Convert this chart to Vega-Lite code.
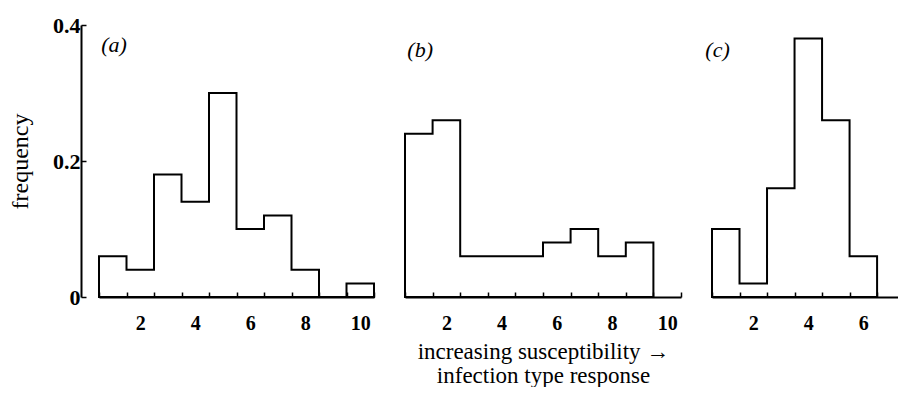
{
  "$schema": "https://vega.github.io/schema/vega-lite/v6.json",
  "background": "white",
  "padding": {"left": 8, "top": 14, "right": 0, "bottom": 0},
  "datasets": {
    "a": [
      {"score": 1, "freq": 0.06}, {"score": 2, "freq": 0.04}, {"score": 3, "freq": 0.18},
      {"score": 4, "freq": 0.14}, {"score": 5, "freq": 0.30}, {"score": 6, "freq": 0.10},
      {"score": 7, "freq": 0.12}, {"score": 8, "freq": 0.04}, {"score": 9, "freq": 0.0},
      {"score": 10, "freq": 0.02}, {"score": 11, "freq": 0.0}
    ],
    "b": [
      {"score": 1, "freq": 0.24}, {"score": 2, "freq": 0.26}, {"score": 3, "freq": 0.06},
      {"score": 4, "freq": 0.06}, {"score": 5, "freq": 0.06}, {"score": 6, "freq": 0.08},
      {"score": 7, "freq": 0.10}, {"score": 8, "freq": 0.06}, {"score": 9, "freq": 0.08},
      {"score": 10, "freq": 0.0}
    ],
    "c": [
      {"score": 1, "freq": 0.10}, {"score": 2, "freq": 0.02}, {"score": 3, "freq": 0.16},
      {"score": 4, "freq": 0.38}, {"score": 5, "freq": 0.26}, {"score": 6, "freq": 0.06},
      {"score": 7, "freq": 0.0}
    ],
    "labels": [{"panel": "(a)"}, {"panel": "(b)"}, {"panel": "(c)"}]
  },
  "spacing": 23,
  "hconcat": [
    {
      "width": 275, "height": 272,
      "layer": [
        {
          "data": {"name": "a"},
          "mark": {"type": "area", "interpolate": "step-after", "fillOpacity": 0, "stroke": "black", "strokeWidth": 2},
          "encoding": {
            "x": {"field": "score", "type": "quantitative",
                  "scale": {"domain": [1, 11], "nice": false, "zero": false},
                  "axis": {"values": [1,2,3,4,5,6,7,8,9,10,11], "labelExpr": "datum.value % 2 == 0 ? format(datum.value, 'd') : ''", "labelOffset": 13.75, "title": null}},
            "y": {"field": "freq", "type": "quantitative",
                  "scale": {"domain": [0, 0.4], "nice": false},
                  "axis": {"values": [0, 0.2, 0.4], "labelExpr": "datum.value == 0 ? '0' : format(datum.value, '.1f')", "offset": 18, "tickSize": -5, "labelPadding": 6, "labelFontSize": 22, "title": "frequency", "titlePadding": 20}}
          }
        },
        {
          "data": {"name": "labels"},
          "transform": [{"filter": "datum.panel == '(a)'"}],
          "mark": {"type": "text", "font": "Liberation Serif", "fontStyle": "italic", "fontSize": 22, "align": "center", "baseline": "middle"},
          "encoding": {
            "x": {"datum": 1.55, "type": "quantitative",
                  "axis": {"values": [1,2,3,4,5,6,7,8,9,10,11], "labelExpr": "datum.value % 2 == 0 ? format(datum.value, 'd') : ''", "labelOffset": 13.75, "title": null}},
            "y": {"datum": 0.37, "type": "quantitative",
                  "axis": {"values": [0, 0.2, 0.4], "labelExpr": "datum.value == 0 ? '0' : format(datum.value, '.1f')", "offset": 18, "tickSize": -5, "labelPadding": 6, "labelFontSize": 22, "title": "frequency", "titlePadding": 20}},
            "text": {"field": "panel"}}
        }
      ]
    },
    {
      "width": 276, "height": 272,
      "layer": [
        {
          "data": {"name": "b"},
          "mark": {"type": "area", "interpolate": "step-after", "fillOpacity": 0, "stroke": "black", "strokeWidth": 2},
          "encoding": {
            "x": {"field": "score", "type": "quantitative",
                  "scale": {"domain": [1, 11], "nice": false, "zero": false},
                  "axis": {"values": [1,2,3,4,5,6,7,8,9,10,11], "labelExpr": "datum.value % 2 == 0 ? format(datum.value, 'd') : ''", "labelOffset": 13.8,
                           "title": ["increasing susceptibility →", "infection type response"]}},
            "y": {"field": "freq", "type": "quantitative",
                  "scale": {"domain": [0, 0.4], "nice": false}, "axis": null}
          }
        },
        {
          "data": {"name": "labels"},
          "transform": [{"filter": "datum.panel == '(b)'"}],
          "mark": {"type": "text", "font": "Liberation Serif", "fontStyle": "italic", "fontSize": 22, "align": "center", "baseline": "middle"},
          "encoding": {
            "x": {"datum": 1.55, "type": "quantitative",
                  "axis": {"values": [1,2,3,4,5,6,7,8,9,10,11], "labelExpr": "datum.value % 2 == 0 ? format(datum.value, 'd') : ''", "labelOffset": 13.8,
                           "title": ["increasing susceptibility →", "infection type response"]}},
            "y": {"datum": 0.363, "type": "quantitative", "axis": null},
            "text": {"field": "panel"}}
        }
      ]
    },
    {
      "width": 186, "height": 272,
      "layer": [
        {
          "data": {"name": "c"},
          "mark": {"type": "area", "interpolate": "step-after", "fillOpacity": 0, "stroke": "black", "strokeWidth": 2},
          "encoding": {
            "x": {"field": "score", "type": "quantitative",
                  "scale": {"domain": [1, 7.76], "nice": false, "zero": false},
                  "axis": {"values": [1,2,3,4,5,6,7], "labelExpr": "datum.value % 2 == 0 ? format(datum.value, 'd') : ''", "labelOffset": 13.75, "title": null}},
            "y": {"field": "freq", "type": "quantitative",
                  "scale": {"domain": [0, 0.4], "nice": false}, "axis": null}
          }
        },
        {
          "data": {"name": "labels"},
          "transform": [{"filter": "datum.panel == '(c)'"}],
          "mark": {"type": "text", "font": "Liberation Serif", "fontStyle": "italic", "fontSize": 22, "align": "center", "baseline": "middle"},
          "encoding": {
            "x": {"datum": 1.2, "type": "quantitative",
                  "axis": {"values": [1,2,3,4,5,6,7], "labelExpr": "datum.value % 2 == 0 ? format(datum.value, 'd') : ''", "labelOffset": 13.75, "title": null}},
            "y": {"datum": 0.363, "type": "quantitative", "axis": null},
            "text": {"field": "panel"}}
        }
      ]
    }
  ],
  "config": {
    "view": {"stroke": null},
    "axis": {
      "grid": false, "zindex": 1,
      "domainColor": "black", "domainWidth": 2,
      "tickColor": "black", "tickWidth": 1.5,
      "labelFont": "Liberation Serif", "labelFontWeight": "bold", "labelFontSize": 20, "labelColor": "black",
      "titleFont": "Liberation Serif", "titleFontWeight": "normal", "titleFontSize": 23, "titleColor": "black"
    },
    "axisX": {"tickSize": -5, "labelPadding": 21, "titlePadding": 7, "titleLineHeight": 24},
    "axisY": {"titleFontSize": 24}
  }
}
